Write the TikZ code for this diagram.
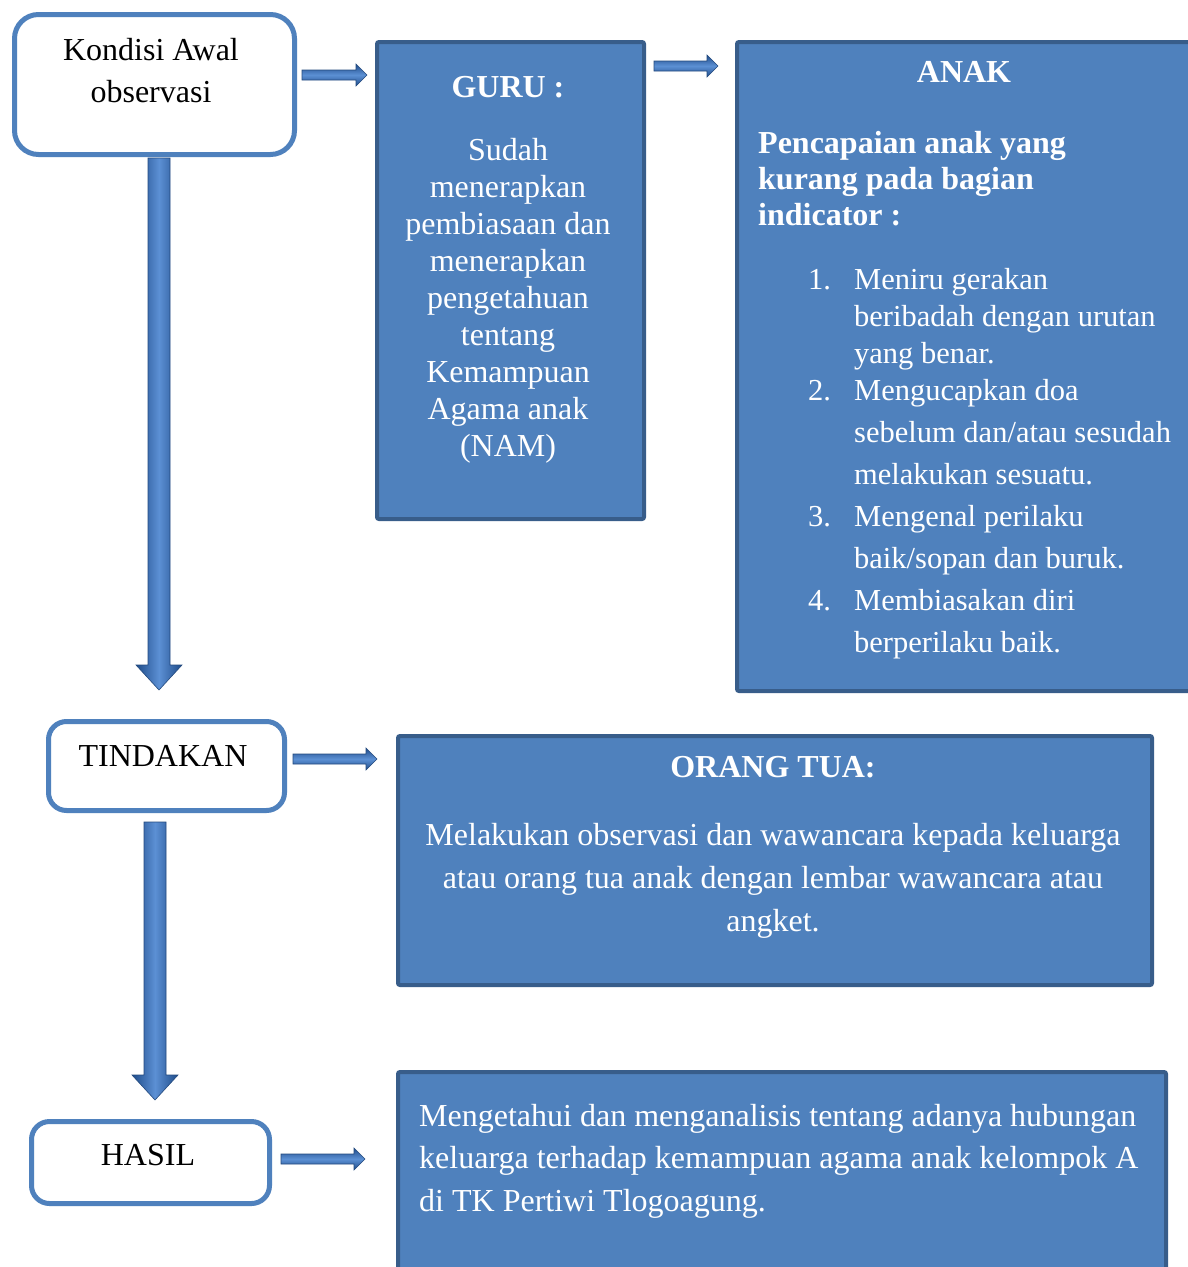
\documentclass[tikz,border=0pt]{standalone}
\usepackage{fontspec}
\setmainfont{Liberation Serif}
\usetikzlibrary{calc}
\definecolor{boxfill}{HTML}{4F81BD}
\definecolor{boxline}{HTML}{385D8A}
\definecolor{arrdark}{HTML}{1F4C8A}
\definecolor{arrlight}{HTML}{5C90D4}
\definecolor{arredge}{HTML}{244A7E}
\newcommand\harr[2]{\path let \p1=(#1),\p2=(#2) in [harrow]
  (\x1,\y1+5pt) -- (\x2-11pt,\y1+5pt) -- (\x2-11pt,\y1+11pt) -- (\x2,\y1)
  -- (\x2-11pt,\y1-11pt) -- (\x2-11pt,\y1-5pt) -- (\x1,\y1-5pt) -- cycle;}
\newcommand\varr[2]{\path let \p1=(#1),\p2=(#2) in [varrow]
  (\x1-11pt,\y1) -- (\x1+11pt,\y1) -- (\x1+11pt,\y2+25pt) -- (\x1+23pt,\y2+25pt)
  -- (\x1,\y2) -- (\x1-23pt,\y2+25pt) -- (\x1-11pt,\y2+25pt) -- cycle;}
\begin{document}
\begin{tikzpicture}[x=1pt,y=-1pt,
  bluebox/.style={draw=boxline, line width=4pt, fill=boxfill, rounded corners=2pt, anchor=north west, inner sep=0pt},
  roundbox/.style={draw=boxfill, line width=5pt, fill=white, anchor=north west, inner sep=0pt},
  txt/.style={font=\fontsize{32}{37}\selectfont, inner sep=0pt},
  wtxt/.style={txt, text=white},
  harrow/.style={draw=arredge, line width=0.6pt, top color=arrdark, bottom color=arrdark, middle color=arrlight},
  varrow/.style={draw=arredge, line width=0.6pt, left color=arrdark, right color=arrdark, middle color=arrlight},
]
\useasboundingbox (0,0) rectangle (1187,1267);
\fill[white] (0,0) rectangle (1187,1267);

% left column
\node[roundbox, rounded corners=24pt, minimum width=280, minimum height=140] (kondisi) at (12,12) {};
\node[txt, anchor=north, align=center, font=\fontsize{32}{42}\selectfont] (kondisiT) at (151,38) {Kondisi Awal\\observasi};
\node[roundbox, rounded corners=18pt, minimum width=236, minimum height=89] (tindakan) at (46,719) {};
\node[txt] (tindakanT) at (163,756) {TINDAKAN};
\node[roundbox, rounded corners=18pt, minimum width=238, minimum height=82] (hasil) at (29,1119) {};
\node[txt] (hasilT) at (148,1155) {HASIL};

% GURU
\node[bluebox, minimum width=267, minimum height=477] (guru) at (375,40) {};
\node[wtxt, anchor=north, align=center] (guruT) at (508,76) {\textbf{GURU :}\\[26pt]Sudah\\menerapkan\\pembiasaan dan\\menerapkan\\pengetahuan\\tentang\\Kemampuan\\Agama anak\\(NAM)};

% ANAK
\node[bluebox, minimum width=470, minimum height=649] (anak) at (735,40) {};
\node[wtxt, font=\fontsize{32}{37}\selectfont\bfseries] (anakH) at (964,72) {ANAK};
\node[wtxt, anchor=north west, align=left, font=\fontsize{32}{36}\selectfont\bfseries] (anakP) at (758,131) {Pencapaian anak yang\\kurang pada bagian\\indicator :};
\node[wtxt, anchor=north west, font=\fontsize{30.5}{37}\selectfont] (anakL) at (808,263) {\begin{tabular}{@{}p{46pt}@{}l@{}}
1. & Meniru gerakan\\
   & beribadah dengan urutan\\
   & yang benar.\\
2. & Mengucapkan doa\\[5pt]
   & sebelum dan/atau sesudah\\[5pt]
   & melakukan sesuatu.\\[5pt]
3. & Mengenal perilaku\\[5pt]
   & baik/sopan dan buruk.\\[5pt]
4. & Membiasakan diri\\[5pt]
   & berperilaku baik.
\end{tabular}};

% ORANG TUA
\node[bluebox, minimum width=754, minimum height=249] (ortu) at (396,734) {};
\node[wtxt, font=\fontsize{32}{37}\selectfont\bfseries] (ortuH) at (773,767) {ORANG TUA:};
\node[wtxt, anchor=north, align=center, font=\fontsize{32}{43}\selectfont] (ortuT) at (773,823) {Melakukan observasi dan wawancara kepada keluarga\\atau orang tua anak dengan lembar wawancara atau\\angket.};

% HASIL text
\node[bluebox, minimum width=768, minimum height=230] (hasilB) at (396,1070) {};
\node[wtxt, anchor=north west, align=left, font=\fontsize{32}{42.5}\selectfont] (hasilBT) at (419,1104) {Mengetahui dan menganalisis tentang adanya hubungan\\keluarga terhadap kemampuan agama anak kelompok A\\di TK Pertiwi Tlogoagung.};

% arrows
\coordinate (a1s) at (302,75); \coordinate (a1e) at (367,75);
\coordinate (a2s) at (654,66); \coordinate (a2e) at (718,66);
\coordinate (a3s) at (293,759); \coordinate (a3e) at (377,759);
\coordinate (a4s) at (281,1159); \coordinate (a4e) at (365,1159);
\coordinate (d1s) at (159,158); \coordinate (d1e) at (159,690);
\coordinate (d2s) at (155,822); \coordinate (d2e) at (155,1100);
\harr{a1s}{a1e}
\harr{a2s}{a2e}
\harr{a3s}{a3e}
\harr{a4s}{a4e}
\varr{d1s}{d1e}
\varr{d2s}{d2e}
\end{tikzpicture}
\end{document}
